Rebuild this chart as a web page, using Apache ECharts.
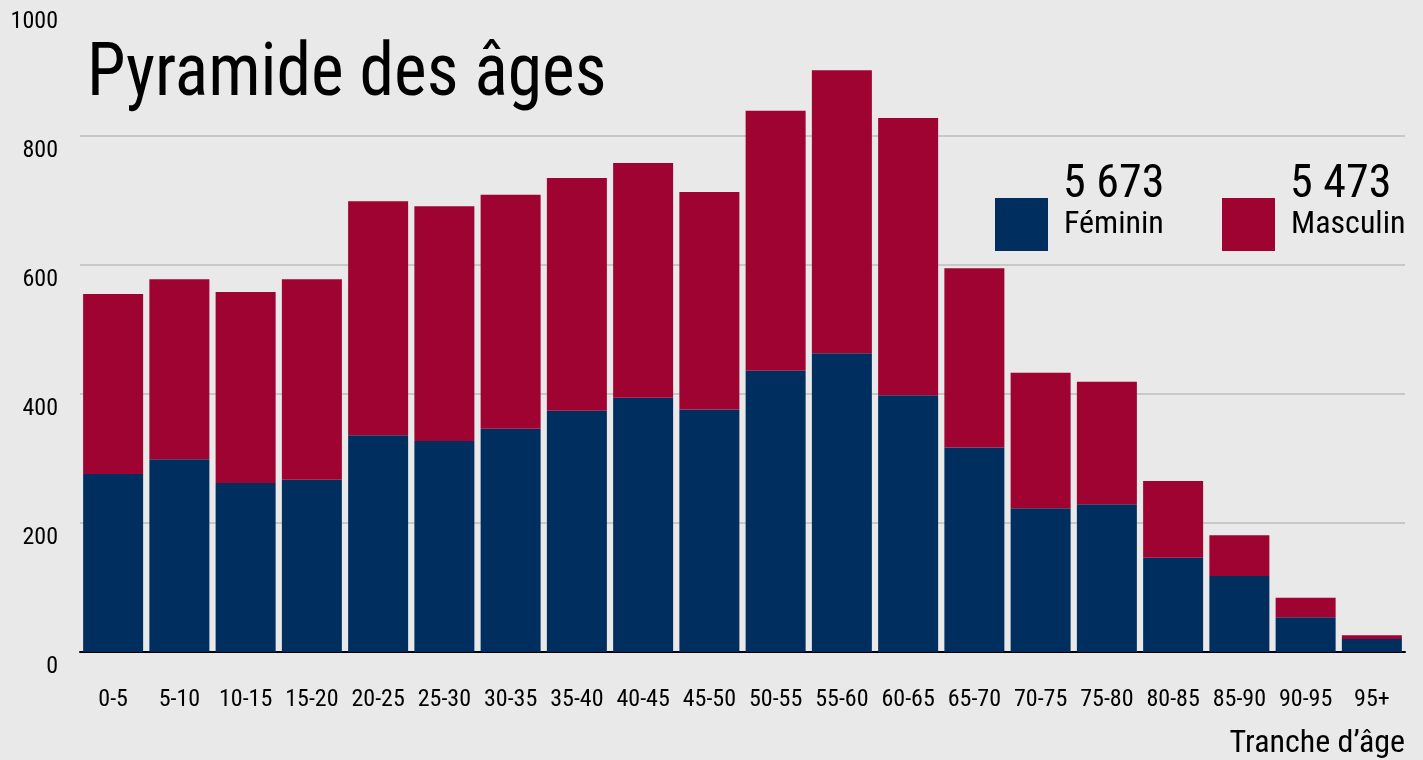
<!DOCTYPE html>
<html>
<head>
<meta charset="utf-8">
<script src="https://cdn.jsdelivr.net/npm/echarts@6/dist/echarts.min.js"></script>
<style>
html,body{margin:0;padding:0;background:#e9e9e9;}
#chart{width:1423px;height:760px;}
</style>
</head>
<body>
<div id="chart"></div>
<script>
const categories = ['0-5','5-10','10-15','15-20','20-25','25-30','30-35','35-40','40-45','45-50','50-55','55-60','60-65','65-70','70-75','75-80','80-85','85-90','90-95','95+'];
const feminin = [276,299,262,267,336,327,346,374,394,376,436,463,398,317,223,229,146,118,54,20];
const masculin = [279,279,296,311,363,364,363,361,364,337,403,439,430,278,210,190,119,63,30,6];
const seriesNames = ['Féminin','Masculin'];
const totals = ['5 673','5 473'];
const titleText = 'Pyramide des âges';
const xAxisName = 'Tranche d’âge';

const FONT = "'Liberation Sans Narrow','Roboto Condensed','Liberation Sans',Arial,sans-serif";
const BLUE = '#002f5f';
const RED = '#9e0332';

const chart = echarts.init(document.getElementById('chart'));
chart.setOption({
  backgroundColor: '#e9e9e9',
  animation: false,
  textStyle: {fontFamily: FONT},
  grid: {left: 80, right: 18, top: 7, bottom: 108, containLabel: false},
  legend: [
    {data: [seriesNames[0]], left: 995, top: 198, itemWidth: 53, itemHeight: 53, icon: 'rect',
     itemGap: 0, padding: 0,
     textStyle: {fontFamily: FONT, fontSize: 32, color: '#000', padding: [0,0,0,11]}},
    {data: [seriesNames[1]], left: 1222, top: 198, itemWidth: 53, itemHeight: 53, icon: 'rect',
     itemGap: 0, padding: 0,
     textStyle: {fontFamily: FONT, fontSize: 32, color: '#000', padding: [0,0,0,11]}}
  ],
  graphic: [
    {type: 'text', x: 87, y: 39, scaleX: 0.94, style: {text: titleText, font: '74px ' + FONT, fill: '#000'}},
    {type: 'text', left: 1063, top: 162, style: {text: totals[0], font: '46px ' + FONT, fill: '#000'}},
    {type: 'text', left: 1290, top: 162, style: {text: totals[1], font: '46px ' + FONT, fill: '#000'}}
  ],
  xAxis: {
    type: 'category',
    data: categories,
    name: xAxisName,
    nameLocation: 'end',
    nameGap: 0,
    nameTextStyle: {fontFamily: FONT, fontSize: 32, color: '#000', align: 'right', verticalAlign: 'top', padding: [76,0,0,0]},
    axisLine: {lineStyle: {color: '#000', width: 2}},
    axisTick: {show: false},
    axisLabel: {fontFamily: FONT, fontSize: 24, color: '#000', margin: 36, interval: 0}
  },
  yAxis: {
    type: 'value',
    min: 0, max: 1000, interval: 200,
    axisLine: {show: false},
    axisTick: {show: false},
    axisLabel: {fontFamily: FONT, fontSize: 24, color: '#000', margin: 22, verticalAlign: 'top', padding: [3,0,0,0],
      formatter: function (v) { return String(v); }},
    splitLine: {lineStyle: {color: ['#bdbdbd','#bdbdbd','#bdbdbd','#bdbdbd','#bdbdbd','rgba(0,0,0,0)'], width: 1.5}}
  },
  series: [
    {name: seriesNames[0], type: 'bar', stack: 'total', data: feminin, barWidth: 60, itemStyle: {color: BLUE}},
    {name: seriesNames[1], type: 'bar', stack: 'total', data: masculin, barWidth: 60, itemStyle: {color: RED}}
  ]
});
</script>
</body>
</html>
